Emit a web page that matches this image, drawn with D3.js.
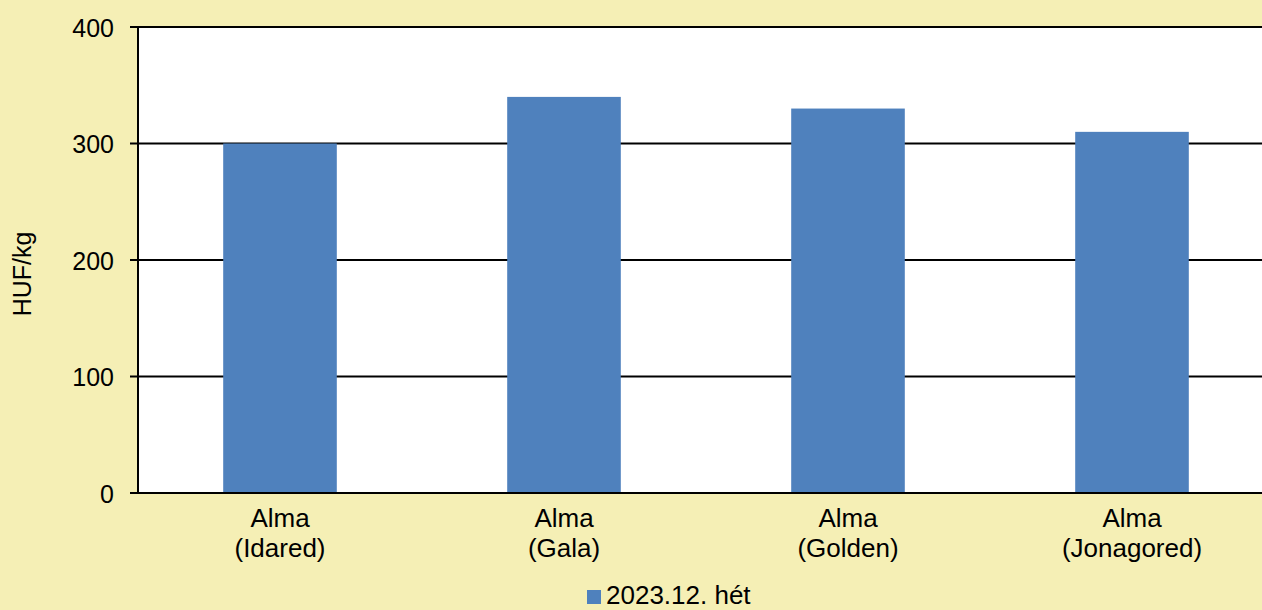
<!DOCTYPE html>
<html><head><meta charset="utf-8">
<script src="https://cdn.jsdelivr.net/npm/d3@7/dist/d3.min.js"></script>
<style>body{margin:0;background:#F5EFB5;overflow:hidden}svg{display:block}text{font-family:"Liberation Sans",Arial,sans-serif;fill:#000}</style>
</head><body>
<svg id="c" width="1262" height="610"></svg>
<script>
const categories = [["Alma","(Idared)"],["Alma","(Gala)"],["Alma","(Golden)"],["Alma","(Jonagored)"]];
const values = [300, 340, 330, 310];
const yTicks = [0, 100, 200, 300, 400];
const seriesName = "2023.12. hét";
const yTitle = "HUF/kg";

const svg = d3.select("#c");
const W = 1262, H = 610;
svg.append("rect").attr("width", W).attr("height", H).attr("fill", "#F5EFB5");
const m = {l:138, t:27, r:1274, b:493};
const x = d3.scaleBand().domain(d3.range(categories.length)).range([m.l, m.r]).paddingInner(0.6).paddingOuter(0.3);
const y = d3.scaleLinear().domain([0, 400]).range([m.b, m.t]);

svg.append("rect").attr("x", m.l).attr("y", m.t).attr("width", m.r - m.l).attr("height", m.b - m.t).attr("fill", "#fff");

// gridlines
svg.append("g").selectAll("line").data(yTicks).join("line")
  .attr("x1", m.l - 8).attr("x2", m.r).attr("y1", d => y(d)).attr("y2", d => y(d))
  .attr("stroke", "#000").attr("stroke-width", 2);

// bars
svg.append("g").selectAll("rect").data(values).join("rect")
  .attr("x", (d, i) => x(i)).attr("width", x.bandwidth())
  .attr("y", d => y(d)).attr("height", d => y(0) - y(d))
  .attr("fill", "#4F81BD");

// axis lines
svg.append("line").attr("x1", m.l).attr("x2", m.l).attr("y1", m.t).attr("y2", m.b).attr("stroke", "#000").attr("stroke-width", 2);
svg.append("line").attr("x1", m.l - 8).attr("x2", m.r).attr("y1", y(0)).attr("y2", y(0)).attr("stroke", "#000").attr("stroke-width", 2);

// y tick labels
svg.append("g").selectAll("text").data(yTicks).join("text")
  .attr("x", 114).attr("y", d => y(d) + 9.5).attr("text-anchor", "end")
  .attr("font-size", 25).text(d => d);

// category labels
const cg = svg.append("g").selectAll("text").data(categories).join("text")
  .attr("text-anchor", "middle").attr("font-size", 26)
  .attr("transform", (d, i) => `translate(${x(i) + x.bandwidth()/2},0)`);
cg.selectAll("tspan").data(d => d).join("tspan")
  .attr("x", 0).attr("y", (d, j) => 527 + j * 30).text(d => d);

// y title
svg.append("text").attr("transform", "translate(31,274) rotate(-90)")
  .attr("text-anchor", "middle").attr("font-size", 25).text(yTitle);

// legend
const lg = svg.append("g");
lg.append("rect").attr("x", 587).attr("y", 590).attr("width", 14).attr("height", 14).attr("fill", "#4F81BD");
lg.append("text").attr("x", 606).attr("y", 604).attr("font-size", 26).text(seriesName);
</script>
</body></html>
